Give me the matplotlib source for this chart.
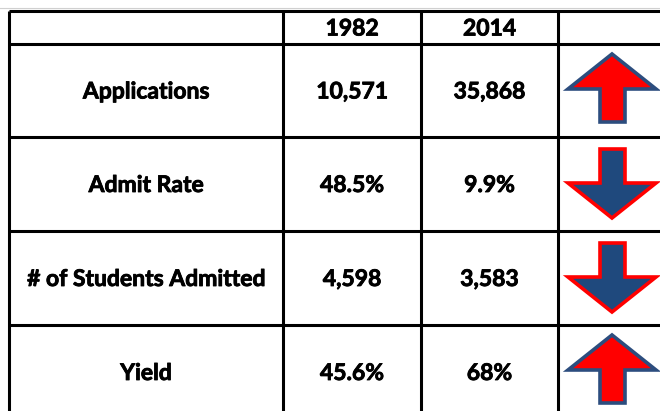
import matplotlib
matplotlib.use("Agg")
import matplotlib.pyplot as plt
import matplotlib.patheffects as pe
from matplotlib.patches import Polygon

metrics = ["Applications", "Admit Rate", "# of Students Admitted", "Yield"]
years = ["1982", "2014"]
values_1982 = ["10,571", "48.5%", "4,598", "45.6%"]
values_2014 = ["35,868", "9.9%", "3,583", "68%"]
directions = ["up", "down", "down", "up"]

W, H = 660, 411
fig = plt.figure(figsize=(W / 100, H / 100), dpi=100)
ax = fig.add_axes([0, 0, 1, 1])
ax.set_xlim(0, W)
ax.set_ylim(H, 0)
ax.axis("off")

col_x = [9, 283, 421, 558, 680]
row_y = [11, 44, 137, 231, 325, 419]

lw = 2.2
for x in col_x[:-1]:
    ax.plot([x, x], [row_y[0], H + 5], color="black", lw=lw, solid_capstyle="butt")
for y in row_y[:-1]:
    ax.plot([col_x[0], W + 5], [y, y], color="black", lw=lw, solid_capstyle="butt")
ax.plot([0, W], [8.5, 8.5], color="#d0d0d0", lw=0.8)

font = dict(family=["Lato", "DejaVu Sans"], fontweight="bold", fontsize=16.5, color="black",
            path_effects=[pe.withStroke(linewidth=0.6, foreground="black")])

for j, yr in enumerate(years):
    cx = (col_x[j + 1] + col_x[j + 2]) / 2
    ax.text(cx, (row_y[0] + row_y[1]) / 2 + 1.5, yr, ha="center", va="center", **font)

up_fill, up_edge = "#ff0000", "#2c4d7e"
down_fill, down_edge = "#1f497d", "#ff0000"

for i, m in enumerate(metrics):
    y0, y1 = row_y[i + 1], row_y[i + 2]
    cy = (y0 + y1) / 2 + 1.5
    ax.text((col_x[0] + col_x[1]) / 2, cy, m, ha="center", va="center", **font)
    ax.text((col_x[1] + col_x[2]) / 2, cy, values_1982[i], ha="center", va="center", **font)
    ax.text((col_x[2] + col_x[3]) / 2, cy, values_2014[i], ha="center", va="center", **font)
    # arrow
    xl, xr = 568, 656
    sl, sr = 600, 625
    if directions[i] == "up":
        tip, shoulder, base = y0 + 10, y0 + 45, y0 + 78
        pts = [(xl, shoulder), ((xl + xr) / 2, tip), (xr, shoulder), (sr, shoulder),
               (sr, base), (sl, base), (sl, shoulder)]
        poly = Polygon(pts, closed=True, facecolor=up_fill, edgecolor=up_edge, lw=2.6,
                       joinstyle="miter")
    else:
        top, shoulder, tip = y0 + 12, y0 + 46, y0 + 81
        pts = [(sl, top), (sr, top), (sr, shoulder), (xr, shoulder), ((xl + xr) / 2, tip),
               (xl, shoulder), (sl, shoulder)]
        poly = Polygon(pts, closed=True, facecolor=down_fill, edgecolor=down_edge, lw=2.6,
                       joinstyle="miter")
    ax.add_patch(poly)

fig.savefig("out.png", dpi=100)
